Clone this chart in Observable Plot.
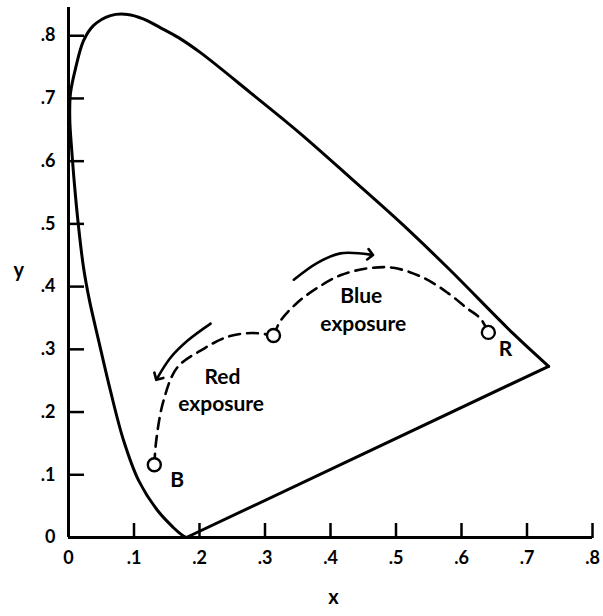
<!DOCTYPE html>
<html>
<head>
<meta charset="utf-8">
<script src="https://cdn.jsdelivr.net/npm/d3@7"></script>
<script src="https://cdn.jsdelivr.net/npm/@observablehq/plot@0.6"></script>
<style>
  html, body { margin: 0; padding: 0; background: #fff; }
</style>
</head>
<body>
<div id="chart"></div>
<script>
// Spectral locus, bottom going up the left side, over the top, down to the red corner
const locusX = [0.180, 0.172, 0.160, 0.136, 0.107, 0.084, 0.064, 0.046, 0.032, 0.023, 0.0155, 0.009, 0.005, 0.002, 0.003, 0.011, 0.023, 0.038, 0.064, 0.090, 0.114, 0.140, 0.168, 0.2015, 0.278, 0.354, 0.431, 0.507, 0.579, 0.679, 0.733];
const locusY = [0.000, 0.005, 0.016, 0.043, 0.091, 0.155, 0.234, 0.314, 0.378, 0.430, 0.494, 0.564, 0.617, 0.665, 0.708, 0.749, 0.792, 0.816, 0.832, 0.834, 0.827, 0.813, 0.797, 0.773, 0.709, 0.644, 0.573, 0.502, 0.430, 0.325, 0.273];

// Purple line (straight) from red corner back to the bottom
const purpleX = [0.733, 0.180];
const purpleY = [0.273, 0.000];

// Dashed exposure path: B -> centre (red exposure), centre -> R (blue exposure)
const dashX   = [0.131, 0.134, 0.145, 0.166, 0.205, 0.243, 0.280, 0.313,
                 0.313, 0.324, 0.350, 0.380, 0.415, 0.456, 0.496, 0.542, 0.579, 0.609, 0.629, 0.641];
const dashY   = [0.116, 0.155, 0.218, 0.271, 0.300, 0.320, 0.326, 0.322,
                 0.322, 0.346, 0.375, 0.398, 0.418, 0.429, 0.430, 0.414, 0.390, 0.365, 0.349, 0.327];
const dashSeg = ["red","red","red","red","red","red","red","red",
                 "blue","blue","blue","blue","blue","blue","blue","blue","blue","blue","blue","blue"];

// Open circles B, centre, R
const pointX = [0.131, 0.313, 0.641];
const pointY = [0.116, 0.322, 0.327];

// Curved arrows
const redArrowX  = [0.217, 0.182, 0.156, 0.136];
const redArrowY  = [0.341, 0.314, 0.287, 0.255];
const blueArrowX = [0.344, 0.380, 0.415, 0.461];
const blueArrowY = [0.411, 0.438, 0.453, 0.451];

// Annotation texts
const annotText = ["Red", "exposure", "Blue", "exposure", "B", "R"];
const annotX    = [0.235, 0.233, 0.447, 0.450, 0.166, 0.667];
const annotY    = [0.255, 0.212, 0.384, 0.340, 0.092, 0.300];

// Ticks
const xTickValues = [0.1, 0.2, 0.3, 0.4, 0.5, 0.6, 0.7, 0.8];
const xLabelValues = [0, 0.1, 0.2, 0.3, 0.4, 0.5, 0.6, 0.7, 0.8];
const xTickLabels = ["0", ".1", ".2", ".3", ".4", ".5", ".6", ".7", ".8"];
const yTickValues = [0.1, 0.2, 0.3, 0.4, 0.5, 0.6, 0.7, 0.8];
const yLabelValues = [0, 0.1, 0.2, 0.3, 0.4, 0.5, 0.6, 0.7, 0.8];
const yTickLabels = ["0", ".1", ".2", ".3", ".4", ".5", ".6", ".7", ".8"];

const xDomain = [0, 0.8];
const yDomain = [0, 0.845];

// layout
const W = 603, H = 616, mL = 68, mR = 11, mT = 7, mB = 79;
const tickLen = 15;
const fontStack = "Lato, 'Open Sans', sans-serif";

const locus = locusX.map((x, i) => ({x, y: locusY[i]}));
const purple = purpleX.map((x, i) => ({x, y: purpleY[i]}));
const dashed = dashX.map((x, i) => ({x, y: dashY[i], seg: dashSeg[i]}));
const points = pointX.map((x, i) => ({x, y: pointY[i]}));
const redArrow = redArrowX.map((x, i) => ({x, y: redArrowY[i]}));
const blueArrow = blueArrowX.map((x, i) => ({x, y: blueArrowY[i]}));
const annots = annotText.map((t, i) => ({t, x: annotX[i], y: annotY[i]}));
const xLabels = xLabelValues.map((v, i) => ({v, t: xTickLabels[i]}));
const yLabels = yLabelValues.map((v, i) => ({v, t: yTickLabels[i]}));

const chart = Plot.plot({
  width: W,
  height: H,
  marginLeft: mL,
  marginRight: mR,
  marginTop: mT,
  marginBottom: mB,
  x: {domain: xDomain, axis: null},
  y: {domain: yDomain, axis: null},
  marks: [
    // axis lines
    Plot.ruleX([0], {y1: 0, y2: yDomain[1], stroke: "#000", strokeWidth: 3}),
    Plot.ruleY([0], {x1: 0, x2: xDomain[1], stroke: "#000", strokeWidth: 3}),
    // inward ticks: a "top" axis anchored on the bottom edge points up into the frame,
    // a "right" axis anchored on the left edge points right into the frame
    Plot.axisX(xTickValues, {anchor: "top", frameAnchor: "bottom", tickSize: tickLen, tickFormat: () => "", label: null, stroke: "#000", strokeWidth: 2.5}),
    Plot.axisY(yTickValues, {anchor: "right", frameAnchor: "left", tickSize: tickLen, tickFormat: () => "", label: null, stroke: "#000", strokeWidth: 2.5}),
    // tick labels
    Plot.text(xLabels, {x: "v", text: "t", frameAnchor: "bottom", dy: 26, fontSize: 18, fontWeight: "bold", fontFamily: fontStack, fill: "#000"}),
    Plot.text(yLabels, {y: "v", text: "t", frameAnchor: "left", dx: -13, textAnchor: "end", fontSize: 18, fontWeight: "bold", fontFamily: fontStack, fill: "#000"}),
    // axis titles
    Plot.text(["y"], {frameAnchor: "left", dx: -55, dy: -2, fontSize: 20, fontWeight: "bold", fontFamily: fontStack, fill: "#000"}),
    Plot.text(["x"], {frameAnchor: "bottom", dx: 3, dy: 66, fontSize: 20, fontWeight: "bold", fontFamily: fontStack, fill: "#000"}),
    // spectral locus
    Plot.line(locus, {x: "x", y: "y", curve: "catmull-rom", stroke: "#000", strokeWidth: 3}),
    Plot.line(purple, {x: "x", y: "y", stroke: "#000", strokeWidth: 3}),
    // dashed exposure path
    Plot.line(dashed, {x: "x", y: "y", z: "seg", curve: "catmull-rom", stroke: "#000", strokeWidth: 2.6, strokeDasharray: "11,7"}),
    // arrows
    Plot.line(redArrow, {x: "x", y: "y", curve: "catmull-rom", stroke: "#000", strokeWidth: 2.6, markerEnd: "arrow"}),
    Plot.line(blueArrow, {x: "x", y: "y", curve: "catmull-rom", stroke: "#000", strokeWidth: 2.6, markerEnd: "arrow"}),
    // circles
    Plot.dot(points, {x: "x", y: "y", r: 6.5, fill: "#fff", stroke: "#000", strokeWidth: 2.4}),
    // annotations
    Plot.text(annots, {x: "x", y: "y", text: "t", fontSize: 21, fontWeight: "bold", fontFamily: fontStack, fill: "#000"})
  ]
});

document.getElementById("chart").appendChild(chart);
</script>
</body>
</html>
